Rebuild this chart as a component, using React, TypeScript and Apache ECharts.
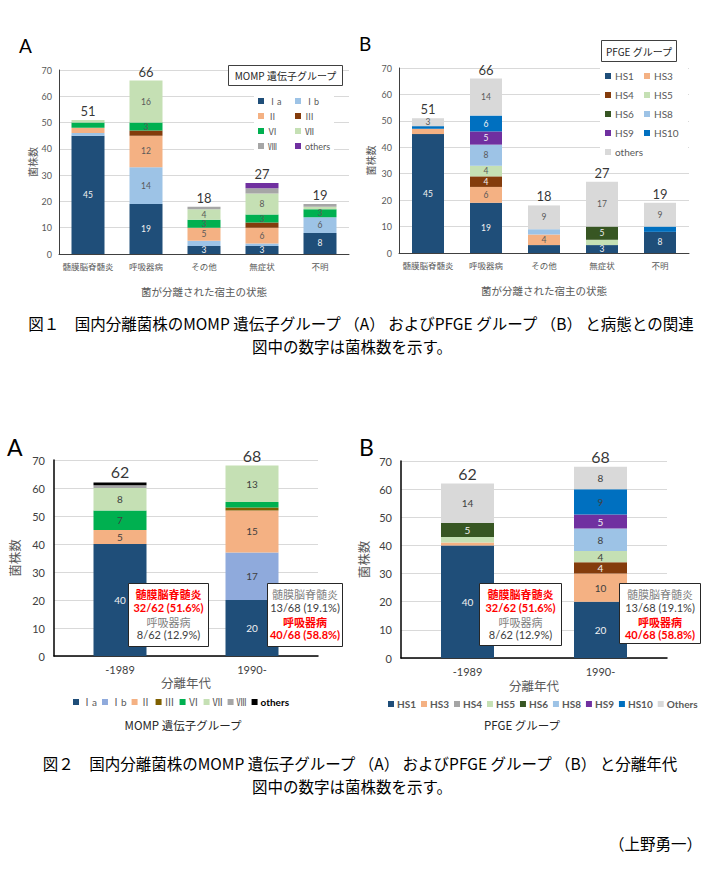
import React, { useEffect, useRef } from "react";
import * as echarts from "echarts";

// ---------------- Data ----------------
const hostCategories = ["髄膜脳脊髄炎", "呼吸器病", "その他", "無症状", "不明"];
const eraCategories = ["-1989", "1990-"];
const yTicks = [0, 10, 20, 30, 40, 50, 60, 70];

// Fig.1 A : MOMP gene group by host state
const f1Ia = [45, 19, 3, 3, 8];
const f1Ib = [1, 14, 2, 1, 6];
const f1II = [2, 12, 5, 6, 0];
const f1III = [0, 2, 0, 2, 0];
const f1VI = [2, 3, 3, 3, 3];
const f1VII = [1, 16, 4, 8, 1];
const f1VIII = [0, 0, 1, 2, 1];
const f1Others = [0, 0, 0, 2, 0];

// Fig.1 B : PFGE group by host state
const f1HS1 = [45, 19, 3, 3, 8];
const f1HS3 = [2, 6, 4, 0, 0];
const f1HS4 = [0, 4, 0, 0, 0];
const f1HS5 = [0, 4, 0, 2, 0];
const f1HS6 = [0, 0, 0, 5, 0];
const f1HS8 = [0, 8, 2, 0, 0];
const f1HS9 = [0, 5, 0, 0, 0];
const f1HS10 = [1, 6, 0, 0, 2];
const f1HSOthers = [3, 14, 9, 17, 9];
const f1BHiddenLabels = [{ group: "HS1", category: "その他" }];

// Fig.2 A : MOMP gene group by isolation era
const f2Ia = [40, 20];
const f2Ib = [0, 17];
const f2II = [5, 15];
const f2III = [0, 1];
const f2VI = [7, 2];
const f2VII = [8, 13];
const f2VIII = [1, 0];
const f2Others = [1, 0];

// Fig.2 B : PFGE group by isolation era
const f2HS1 = [40, 20];
const f2HS3 = [1, 10];
const f2HS4 = [0, 4];
const f2HS5 = [2, 4];
const f2HS6 = [5, 0];
const f2HS8 = [0, 8];
const f2HS9 = [0, 5];
const f2HS10 = [0, 9];
const f2HSOthers = [14, 8];

// Notes in Fig.2
const noteMeninLabel = "髄膜脳脊髄炎";
const noteRespLabel = "呼吸器病";
const noteMenin = ["32/62 (51.6%)", "13/68 (19.1%)"];
const noteResp = ["8/62 (12.9%)", "40/68 (58.8%)"];
const noteHighlight = ["menin", "resp"];

const fig1Caption = [
  "図１　国内分離菌株のMOMP 遺伝子グループ （A） およびPFGE グループ （B） と病態との関連",
  "図中の数字は菌株数を示す。",
];
const fig2Caption = [
  "図２　国内分離菌株のMOMP 遺伝子グループ （A） およびPFGE グループ （B） と分離年代",
  "図中の数字は菌株数を示す。",
];
const author = "（上野勇一）";

// ---------------- Styles ----------------
const FONT = "Lato, 'Noto Sans CJK JP', sans-serif";
const JP = "'Noto Sans CJK JP', sans-serif";
const C = {
  ia: "#1F4E79",
  ib: "#9DC3E6",
  ib2: "#8FAADC",
  ii: "#F4B183",
  iii: "#843C0C",
  iii2: "#7F6000",
  vi: "#00B050",
  vii: "#C5E0B4",
  viii: "#A6A6A6",
  oth1: "#7030A0",
  oth2: "#000000",
  hs1: "#1F4E79",
  hs3: "#F4B183",
  hs4: "#843C0C",
  hs5: "#C5E0B4",
  hs6: "#375623",
  hs8: "#9DC3E6",
  hs9: "#7030A0",
  hs10: "#0070C0",
  hsOth: "#D9D9D9",
};
const LIGHT = "#F2F2F2";
const DARK = "#595959";

type Seg = { key: string; values: number[]; color: string; labelColor: string };

function sum(cols: number[][], i: number) {
  return cols.reduce((a, c) => a + c[i], 0);
}

function stackSeries(
  id: string,
  axis: number,
  segs: Seg[],
  cats: string[],
  barWidth: number,
  fontSize: number,
  totalSize: number,
  hidden: { group: string; category: string }[] = []
) {
  const out: any[] = segs.map((s) => ({
    type: "bar",
    name: `${id}|${s.key}`,
    stack: id,
    xAxisIndex: axis,
    yAxisIndex: axis,
    barWidth,
    itemStyle: { color: s.color },
    label: {
      show: true,
      position: "inside",
      fontSize,
      fontFamily: FONT,
      color: s.labelColor,
      formatter: (p: any) =>
        p.value >= 3 && !hidden.some((h) => h.group === s.key && h.category === cats[p.dataIndex])
          ? String(p.value)
          : "",
    },
    data: s.values,
  }));
  const totals = cats.map((_, i) => sum(segs.map((s) => s.values), i));
  out.push({
    type: "scatter",
    name: `${id}|total`,
    xAxisIndex: axis,
    yAxisIndex: axis,
    symbolSize: 1,
    itemStyle: { color: "rgba(0,0,0,0)" },
    label: {
      show: true,
      position: "top",
      distance: 2,
      fontSize: totalSize,
      fontFamily: FONT,
      color: "#000",
      formatter: (p: any) => String(p.value),
    },
    data: totals,
    z: 5,
  });
  return out;
}

function catAxis(o: any) {
  return {
    type: "category",
    gridIndex: o.grid,
    data: o.data,
    axisTick: { show: false },
    axisLine: { lineStyle: { color: o.lineColor, width: o.lineWidth } },
    axisLabel: { fontSize: o.fontSize, color: o.color, margin: o.margin, fontFamily: FONT, interval: 0 },
    name: o.name,
    nameLocation: "middle",
    nameGap: o.nameGap,
    nameTextStyle: { fontSize: o.nameSize, color: o.nameColor, fontFamily: JP },
  };
}

function valAxis(o: any) {
  return {
    type: "value",
    gridIndex: o.grid,
    min: yTicks[0],
    max: yTicks[yTicks.length - 1],
    interval: yTicks[1] - yTicks[0],
    axisLine: { show: true, lineStyle: { color: o.lineColor, width: o.lineWidth } },
    axisTick: { show: false },
    splitLine: { lineStyle: { color: "#D9D9D9", width: 1 } },
    axisLabel: { fontSize: o.fontSize, color: o.color, margin: o.margin, fontFamily: FONT },
    name: "菌株数",
    nameLocation: "middle",
    nameRotate: 90,
    nameGap: o.nameGap,
    nameTextStyle: { fontSize: o.nameSize, color: o.nameColor, fontFamily: JP },
  };
}

const fmt = (name: string) => name.split("|")[1];

function colLegend(left: number, top: number, names: string[], lineHeight: number, fontSize: number) {
  return {
    orient: "vertical",
    left,
    top,
    data: names,
    formatter: fmt,
    icon: "rect",
    itemWidth: 6,
    itemHeight: 6,
    itemGap: 0,
    padding: 0,
    selectedMode: false,
    textStyle: { fontSize, color: DARK, fontFamily: FONT, lineHeight, padding: [0, 0, 0, -1] },
  };
}

function txt(text: string, x: number, y: number, size: number, opts: any = {}) {
  return {
    type: "text",
    z: 100,
    style: {
      text,
      x,
      y,
      fontSize: size,
      fontFamily: opts.family || JP,
      fontWeight: opts.weight || "normal",
      fill: opts.fill || "#000",
      textAlign: opts.align || "center",
      textVerticalAlign: "middle",
      verticalAlign: "middle",
    },
  };
}

function noteBox(x: number, y: number, w: number, h: number, era: number) {
  const cx = x + w / 2;
  const hiM = noteHighlight[era] === "menin";
  const red = "#FF0000";
  return [
    { type: "rect", z: 99, shape: { x, y, width: w, height: h }, style: { fill: "#fff", stroke: "#262626", lineWidth: 1 } },
    txt(noteMeninLabel, cx, y + 10, 11, { fill: hiM ? red : "#7F7F7F", weight: hiM ? "bold" : "normal" }),
    txt(noteMenin[era], cx, y + 24, 11, { fill: hiM ? red : "#404040", weight: hiM ? "bold" : "normal", family: FONT }),
    txt(noteRespLabel, cx, y + 38, 11, { fill: !hiM ? red : "#7F7F7F", weight: !hiM ? "bold" : "normal" }),
    txt(noteResp[era], cx, y + 51, 11, { fill: !hiM ? red : "#404040", weight: !hiM ? "bold" : "normal", family: FONT }),
  ];
}

export default function App() {
  const ref = useRef<HTMLDivElement>(null);

  useEffect(() => {
    if (!ref.current) return;
    const chart = echarts.init(ref.current, undefined, { renderer: "svg" });

    const segs1A: Seg[] = [
      { key: "Ⅰa", values: f1Ia, color: C.ia, labelColor: LIGHT },
      { key: "Ⅰb", values: f1Ib, color: C.ib, labelColor: DARK },
      { key: "Ⅱ", values: f1II, color: C.ii, labelColor: DARK },
      { key: "Ⅲ", values: f1III, color: C.iii, labelColor: LIGHT },
      { key: "Ⅵ", values: f1VI, color: C.vi, labelColor: DARK },
      { key: "Ⅶ", values: f1VII, color: C.vii, labelColor: DARK },
      { key: "Ⅷ", values: f1VIII, color: C.viii, labelColor: DARK },
      { key: "others", values: f1Others, color: C.oth1, labelColor: LIGHT },
    ];
    const segs1B: Seg[] = [
      { key: "HS1", values: f1HS1, color: C.hs1, labelColor: LIGHT },
      { key: "HS3", values: f1HS3, color: C.hs3, labelColor: DARK },
      { key: "HS4", values: f1HS4, color: C.hs4, labelColor: LIGHT },
      { key: "HS5", values: f1HS5, color: C.hs5, labelColor: DARK },
      { key: "HS6", values: f1HS6, color: C.hs6, labelColor: LIGHT },
      { key: "HS8", values: f1HS8, color: C.hs8, labelColor: DARK },
      { key: "HS9", values: f1HS9, color: C.hs9, labelColor: LIGHT },
      { key: "HS10", values: f1HS10, color: C.hs10, labelColor: LIGHT },
      { key: "others", values: f1HSOthers, color: C.hsOth, labelColor: DARK },
    ];
    const segs2A: Seg[] = [
      { key: "Ⅰa", values: f2Ia, color: C.ia, labelColor: LIGHT },
      { key: "Ⅰb", values: f2Ib, color: C.ib2, labelColor: "#404040" },
      { key: "Ⅱ", values: f2II, color: C.ii, labelColor: "#404040" },
      { key: "Ⅲ", values: f2III, color: C.iii2, labelColor: LIGHT },
      { key: "Ⅵ", values: f2VI, color: C.vi, labelColor: "#404040" },
      { key: "Ⅶ", values: f2VII, color: C.vii, labelColor: "#404040" },
      { key: "Ⅷ", values: f2VIII, color: C.viii, labelColor: "#404040" },
      { key: "others", values: f2Others, color: C.oth2, labelColor: LIGHT },
    ];
    const segs2B: Seg[] = [
      { key: "HS1", values: f2HS1, color: C.hs1, labelColor: LIGHT },
      { key: "HS3", values: f2HS3, color: C.hs3, labelColor: "#404040" },
      { key: "HS4", values: f2HS4, color: C.hs4, labelColor: LIGHT },
      { key: "HS5", values: f2HS5, color: C.hs5, labelColor: "#404040" },
      { key: "HS6", values: f2HS6, color: C.hs6, labelColor: LIGHT },
      { key: "HS8", values: f2HS8, color: C.hs8, labelColor: "#404040" },
      { key: "HS9", values: f2HS9, color: C.hs9, labelColor: LIGHT },
      { key: "HS10", values: f2HS10, color: C.hs10, labelColor: "#404040" },
      { key: "Others", values: f2HSOthers, color: C.hsOth, labelColor: "#404040" },
    ];

    const series = [
      ...stackSeries("1A", 0, segs1A, hostCategories, 33, 8.5, 13),
      ...stackSeries("1B", 1, segs1B, hostCategories, 32, 8.5, 13, f1BHiddenLabels),
      ...stackSeries("2A", 2, segs2A, eraCategories, 53, 10, 16),
      ...stackSeries("2B", 3, segs2B, eraCategories, 53, 10, 16),
    ];

    const legends: any[] = [
      colLegend(258, 93.5, ["1A|Ⅰa", "1A|Ⅱ", "1A|Ⅵ", "1A|Ⅷ"], 15, 9),
      colLegend(295, 93.5, ["1A|Ⅰb", "1A|Ⅲ", "1A|Ⅶ", "1A|others"], 15, 9),
      colLegend(605, 66.5, ["1B|HS1", "1B|HS4", "1B|HS6", "1B|HS9", "1B|others"], 19, 10),
      colLegend(644, 66.5, ["1B|HS3", "1B|HS5", "1B|HS8", "1B|HS10"], 19, 10),
      {
        orient: "horizontal",
        left: 73,
        top: 697,
        width: 260,
        data: segs2A.map((s) =>
          s.key === "others"
            ? { name: `2A|${s.key}`, textStyle: { fontWeight: "bold", color: "#000" } }
            : { name: `2A|${s.key}` }
        ),
        formatter: fmt,
        icon: "rect",
        itemWidth: 6,
        itemHeight: 6,
        itemGap: 5,
        padding: 0,
        selectedMode: false,
        textStyle: { fontSize: 10, color: DARK, fontFamily: FONT, padding: [0, 0, 0, -2] },
      },
      {
        orient: "horizontal",
        left: 388,
        top: 699,
        width: 316,
        data: segs2B.map((s) =>
          s.key === "HS4" ? { name: `2B|${s.key}`, itemStyle: { color: "#A5A5A5" } } : { name: `2B|${s.key}` }
        ),
        formatter: fmt,
        icon: "rect",
        itemWidth: 6,
        itemHeight: 6,
        itemGap: 5,
        padding: 0,
        selectedMode: false,
        textStyle: { fontSize: 10, color: DARK, fontFamily: FONT, fontWeight: "bold", padding: [0, 0, 0, -2] },
      },
    ];

    const graphic: any[] = [
      // legend backgrounds (cover grid lines)
      { type: "rect", z: 1, shape: { x: 254, y: 92, width: 80, height: 62 }, style: { fill: "#fff" } },
      { type: "rect", z: 1, shape: { x: 600, y: 65, width: 88, height: 97 }, style: { fill: "#fff" } },
      // legend titles
      { type: "rect", z: 99, shape: { x: 228.5, y: 65.5, width: 114, height: 20 }, style: { fill: "#fff", stroke: "#404040", lineWidth: 1 } },
      txt("MOMP 遺伝子グループ", 285.5, 75.5, 10, { fill: "#262626" }),
      { type: "rect", z: 99, shape: { x: 601.5, y: 40.5, width: 75, height: 21 }, style: { fill: "#fff", stroke: "#404040", lineWidth: 1 } },
      txt("PFGE グループ", 639, 51, 10, { fill: "#262626" }),
      // panel letters
      txt("A", 19, 45, 19, { family: FONT, align: "left" }),
      txt("B", 359, 43, 19, { family: FONT, align: "left" }),
      txt("A", 7, 447, 23, { family: FONT, align: "left" }),
      txt("B", 359, 447, 23, { family: FONT, align: "left" }),
      // fig 2 legend group titles
      txt("MOMP 遺伝子グループ", 183, 725, 11.5, { fill: "#262626" }),
      txt("PFGE グループ", 522, 725, 11.5, { fill: "#262626" }),
      // notes
      ...noteBox(128.5, 583.5, 80, 63, 0),
      ...noteBox(267.5, 583.5, 75, 63, 1),
      ...noteBox(479.5, 583.5, 82, 62, 0),
      ...noteBox(619.5, 583.5, 81, 60, 1),
      // captions
      txt(fig1Caption[0], 361, 323, 15.5),
      txt(fig1Caption[1], 352, 346, 15.5),
      txt(fig2Caption[0], 360, 763, 15.5),
      txt(fig2Caption[1], 352, 786, 15.5),
      txt(author, 702, 843, 15.5, { align: "right" }),
    ];

    const option: any = {
      animation: false,
      backgroundColor: "#fff",
      textStyle: { fontFamily: FONT },
      grid: [
        { left: 59, top: 70, width: 290, height: 184 },
        { left: 399, top: 68, width: 290, height: 185 },
        { left: 54, top: 460, width: 264, height: 196 },
        { left: 401, top: 461, width: 266, height: 197 },
      ],
      xAxis: [
        catAxis({ grid: 0, data: hostCategories, lineColor: "#404040", lineWidth: 1, fontSize: 8.5, color: DARK, margin: 9, name: "菌が分離された宿主の状態", nameGap: 32, nameSize: 10.5, nameColor: DARK }),
        catAxis({ grid: 1, data: hostCategories, lineColor: "#404040", lineWidth: 1, fontSize: 8.5, color: DARK, margin: 9, name: "菌が分離された宿主の状態", nameGap: 32, nameSize: 10.5, nameColor: DARK }),
        catAxis({ grid: 2, data: eraCategories, lineColor: "#000", lineWidth: 1.5, fontSize: 11, color: "#404040", margin: 8, name: "分離年代", nameGap: 20, nameSize: 12.5, nameColor: DARK }),
        catAxis({ grid: 3, data: eraCategories, lineColor: "#000", lineWidth: 1.5, fontSize: 11, color: "#404040", margin: 8, name: "分離年代", nameGap: 21, nameSize: 12.5, nameColor: DARK }),
      ],
      yAxis: [
        valAxis({ grid: 0, lineColor: "#404040", lineWidth: 1, fontSize: 9, color: DARK, margin: 7, nameGap: 22, nameSize: 10, nameColor: DARK }),
        valAxis({ grid: 1, lineColor: "#404040", lineWidth: 1, fontSize: 9, color: DARK, margin: 7, nameGap: 24, nameSize: 10, nameColor: DARK }),
        valAxis({ grid: 2, lineColor: "#000", lineWidth: 1.5, fontSize: 11, color: "#404040", margin: 9, nameGap: 33, nameSize: 12.5, nameColor: DARK }),
        valAxis({ grid: 3, lineColor: "#000", lineWidth: 1.5, fontSize: 11, color: "#404040", margin: 9, nameGap: 31, nameSize: 12.5, nameColor: DARK }),
      ],
      legend: legends,
      series,
      graphic,
    };

    chart.setOption(option);
    return () => chart.dispose();
  }, []);

  return (
    <div
      ref={ref}
      style={{ position: "absolute", left: 0, top: 0, width: 705, height: 869, background: "#fff" }}
    />
  );
}
